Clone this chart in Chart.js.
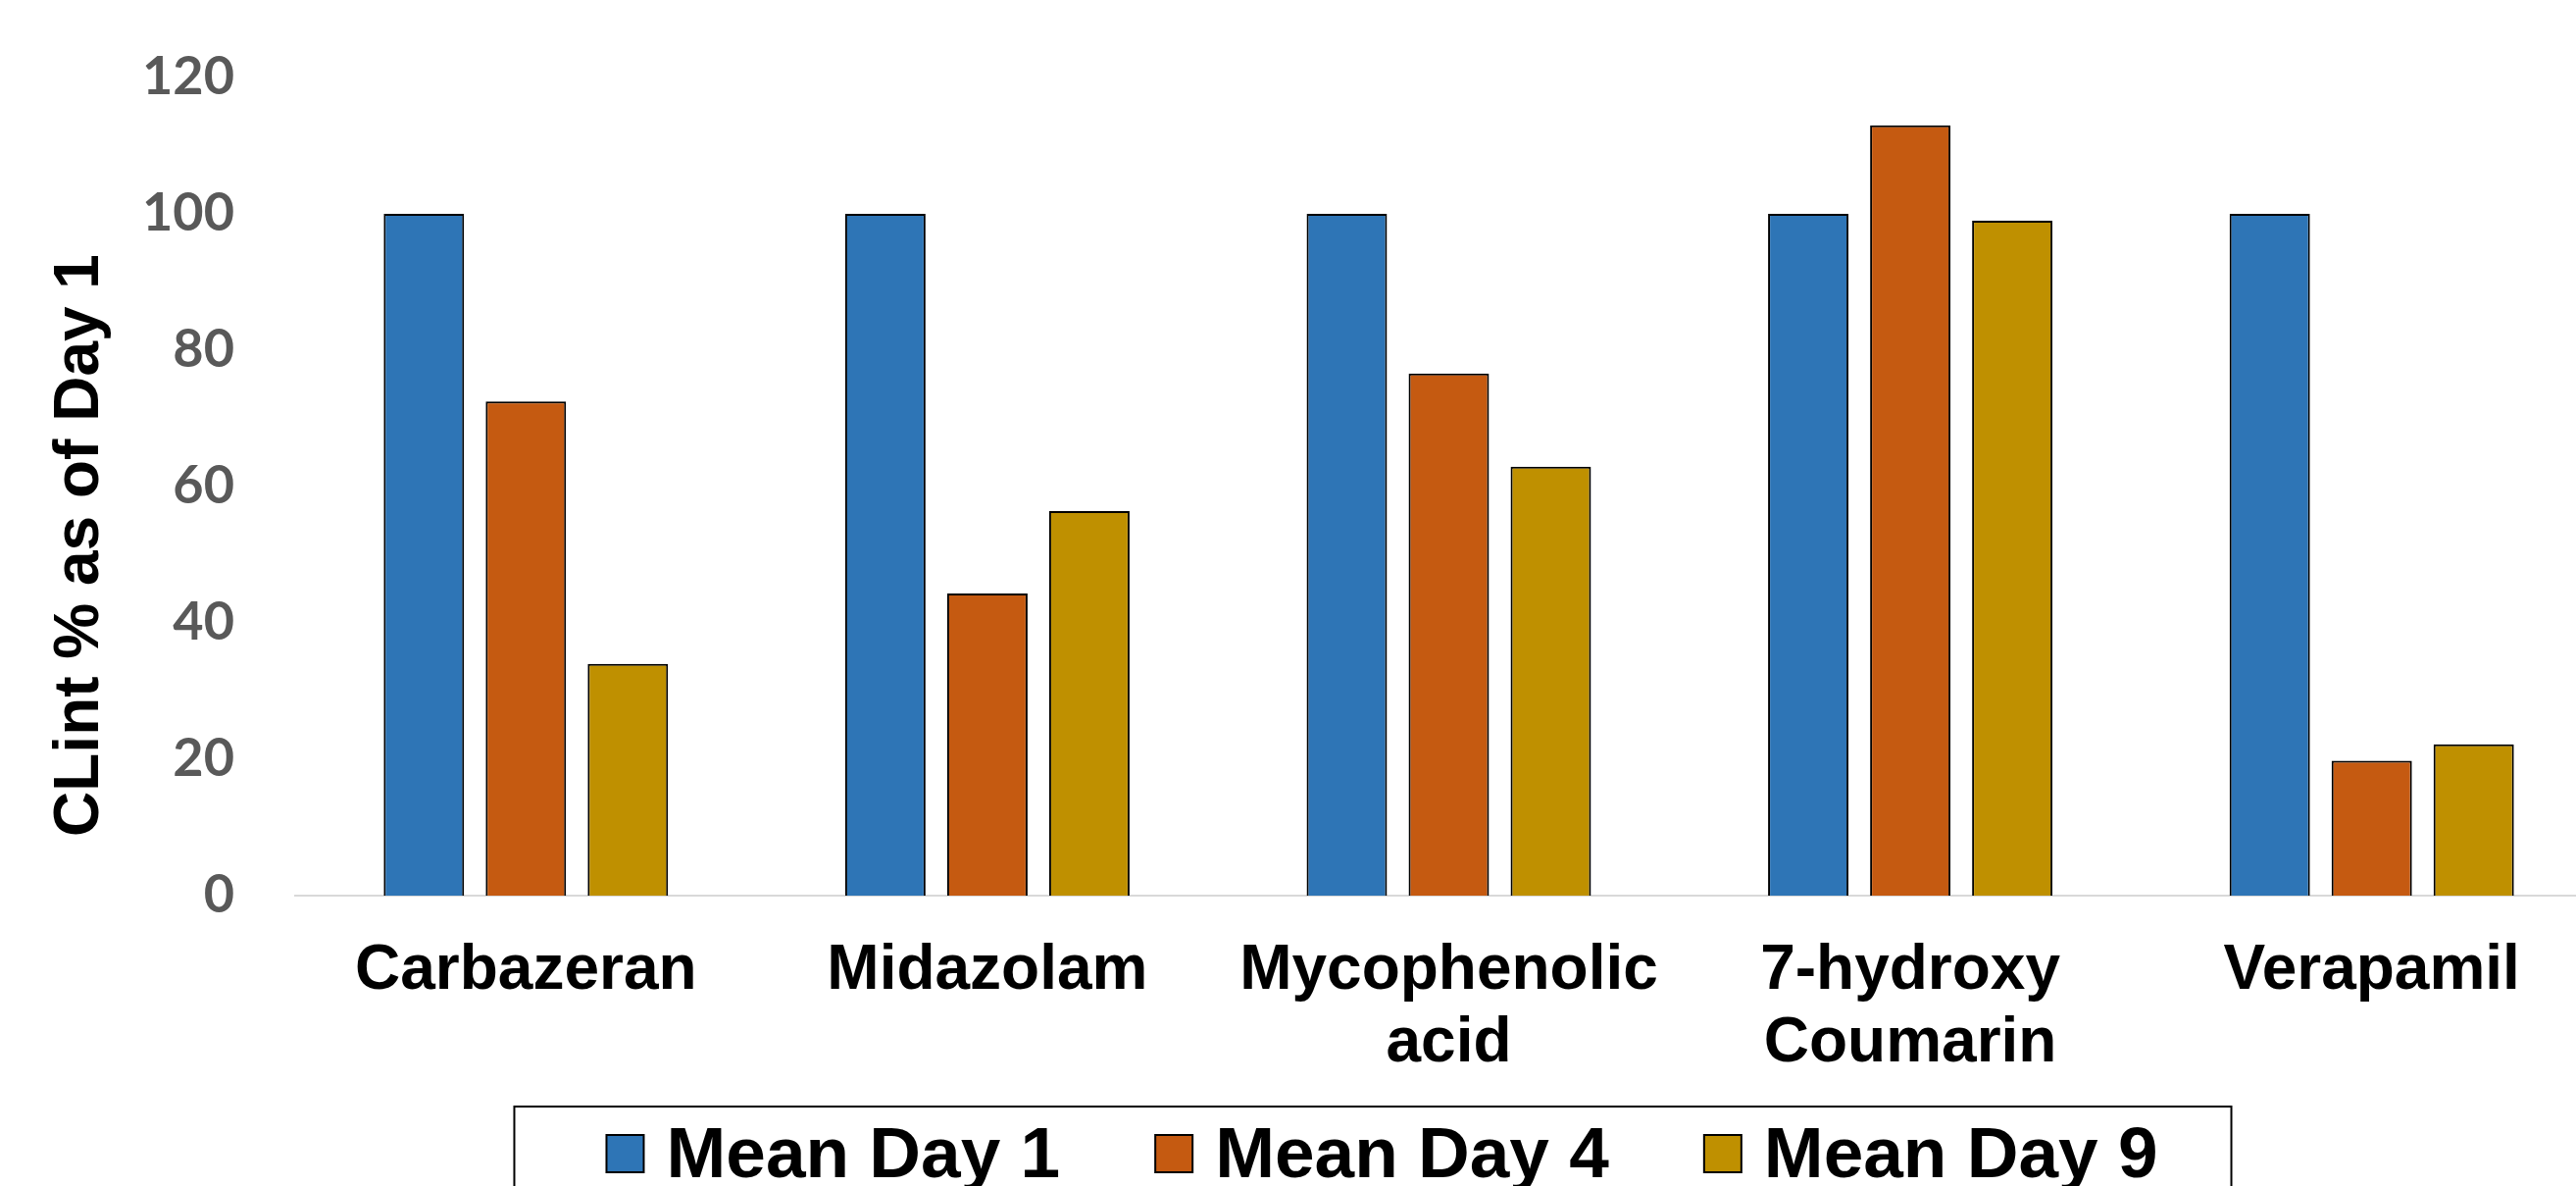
<!DOCTYPE html>
<html>
<head>
<meta charset="UTF-8">
<title>CLint % as of Day 1</title>
<style type="text/css">
html, body {
	margin: 0;
	padding: 0;
	background: #fff;
	overflow: hidden;
}
#wrap {
	position: absolute;
	left: 0;
	top: 0;
	width: 2800px;
	height: 1240px;
}
</style>
</head>
<body>
	<div id="wrap">
		<canvas id="myChart" width="2800" height="1240" style="width:2800px;height:1240px"></canvas>
	</div>
<script src="https://cdn.jsdelivr.net/npm/chart.js@4.4.0/dist/chart.umd.min.js"></script>
<script type="text/javascript">
	// data
	const compounds = ['Carbazeran', 'Midazolam', ['Mycophenolic', 'acid'], ['7-hydroxy', 'Coumarin'], 'Verapamil'];
	const seriesNames = ['Mean Day 1', 'Mean Day 4', 'Mean Day 9'];
	const day1 = [100, 100, 100, 100, 100];
	const day4 = [72.5, 44.3, 76.6, 113.0, 19.8];
	const day9 = [34.0, 56.4, 62.9, 99.0, 22.2];
	const yTicks = [0, 20, 40, 60, 80, 100, 120];
	const yTitle = 'CLint % as of Day 1';

	const colors = ['#2E75B6', '#C55A11', '#BF9000'];
	const boldArial = '"Liberation Sans", Arial, sans-serif';

	// y title (sits a bit below the middle of the axis) and the framed legend under the chart
	const extras = {
		id: 'extras',
		afterDraw(chart) {
			const ctx = chart.ctx;
			ctx.save();
			ctx.translate(100, 556);
			ctx.rotate(-Math.PI / 2);
			ctx.font = 'bold 64px ' + boldArial;
			ctx.fillStyle = '#000';
			ctx.textAlign = 'center';
			ctx.textBaseline = 'alphabetic';
			ctx.fillText(yTitle, 0, 0);
			ctx.restore();

			// legend
			const sets = chart.data.datasets;
			const box = 38, gapText = 23, gapItem = 97, padL = 94, padR = 75;
			ctx.save();
			ctx.font = 'bold 73px ' + boldArial;
			const widths = sets.map(d => ctx.measureText(d.label).width);
			let total = padL + padR + gapItem * (sets.length - 1);
			widths.forEach(w => { total += box + gapText + w; });
			const left = chart.width / 2 - total / 2;
			const top = 1128;
			ctx.strokeStyle = '#000';
			ctx.lineWidth = 2;
			ctx.strokeRect(left, top, total, chart.height - top + 20);
			let x = left + padL;
			sets.forEach((d, i) => {
				ctx.fillStyle = d.backgroundColor;
				ctx.fillRect(x, 1157, box, box);
				ctx.lineWidth = 2;
				ctx.strokeRect(x, 1157, box, box);
				ctx.fillStyle = '#000';
				ctx.textAlign = 'left';
				ctx.textBaseline = 'alphabetic';
				ctx.fillText(d.label, x + box + gapText, 1200);
				x += box + gapText + widths[i] + gapItem;
			});
			ctx.restore();
		}
	};

	const ctx = document.getElementById('myChart').getContext('2d');
	const chart = new Chart(ctx, {
		type: 'bar',
		data: {
			labels: compounds,
			datasets: [
				{ label: seriesNames[0], data: day1, backgroundColor: colors[0], borderColor: '#000', borderWidth: 2 },
				{ label: seriesNames[1], data: day4, backgroundColor: colors[1], borderColor: '#000', borderWidth: 2 },
				{ label: seriesNames[2], data: day9, backgroundColor: colors[2], borderColor: '#000', borderWidth: 2 }
			]
		},
		options: {
			responsive: false,
			animation: false,
			datasets: {
				bar: { categoryPercentage: 0.663, barPercentage: 0.788 }
			},
			layout: {
				padding: { left: 0, right: 146, top: 79, bottom: 127 }
			},
			plugins: {
				tooltip: { enabled: false },
				legend: { display: false }
			},
			scales: {
				x: {
					grid: { display: false, drawTicks: false },
					border: { display: true, color: '#D9D9D9', width: 2 },
					ticks: {
						color: '#000',
						padding: 40,
						maxRotation: 0,
						autoSkip: false,
						font: { family: boldArial, size: 64, weight: 'bold', lineHeight: 1.156 }
					},
					afterFit: function(s) { s.height = 200; }
				},
				y: {
					min: 0,
					max: 120,
					grid: { display: false, drawTicks: false },
					border: { display: false },
					ticks: {
						color: '#595959',
						padding: 62,
						font: { family: 'Lato, "Open Sans", sans-serif', size: 54, weight: 'bold' }
					},
					afterBuildTicks: function(s) { s.ticks = yTicks.map(v => ({ value: v })); },
					afterFit: function(s) {
						s.width = 301;
						s.paddingTop = 0;
						s.paddingBottom = 0;
					}
				}
			}
		},
		plugins: [extras]
	});
</script>
</body>
</html>
